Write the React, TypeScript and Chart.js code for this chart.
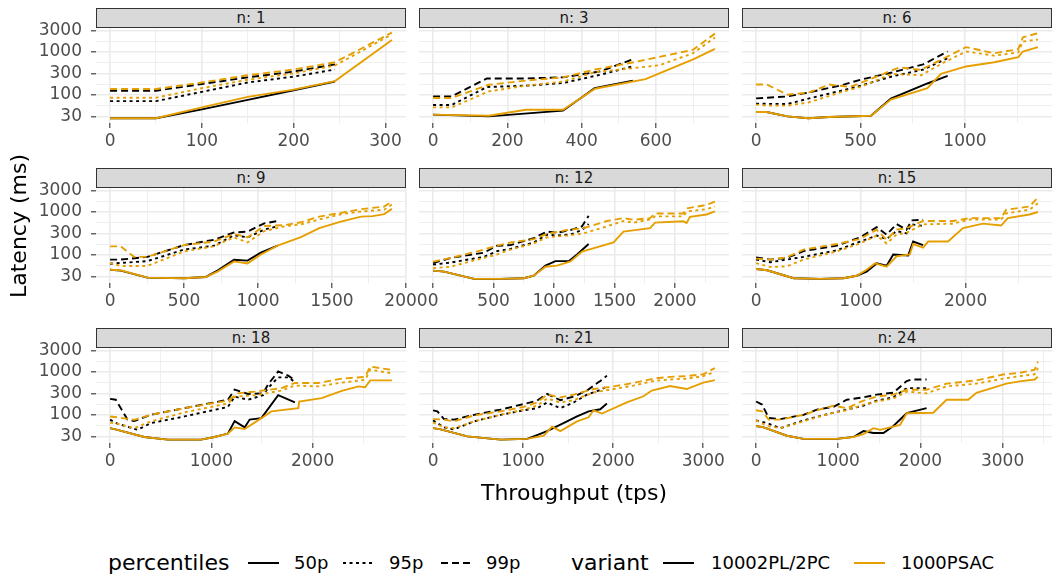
import React, { useEffect, useRef } from "react";
import { Chart, registerables } from "chart.js";
Chart.register(...registerables);

type P = [number, number][];

// ---------- data: [throughput (tps), latency (ms)] ----------
// n: 1
const n1_b50: P = [[0,28],[50,28],[100,45],[150,75],[200,125],[245,200]];
const n1_b95: P = [[0,70],[50,70],[100,115],[150,190],[200,260],[245,380]];
const n1_b99: P = [[0,122],[50,122],[100,175],[150,250],[200,340],[245,500]];
const n1_o50: P = [[0,28],[50,28],[100,50],[150,88],[200,130],[245,205],[307,1850]];
const n1_o95: P = [[0,84],[50,84],[100,140],[150,220],[200,310],[245,470],[307,2500]];
const n1_o99: P = [[0,134],[50,134],[100,190],[150,280],[200,380],[245,560],[307,2750]];
// n: 3
const n3_b50: P = [[0,34],[150,31],[350,42],[435,140],[538,210]];
const n3_b95: P = [[0,57],[50,57],[145,149],[250,160],[350,184],[450,287],[538,450]];
const n3_b99: P = [[0,90],[50,90],[145,236],[250,236],[350,250],[450,343],[538,660]];
const n3_o50: P = [[0,34],[150,32],[250,44],[350,44],[436,136],[572,228],[702,660],[759,1150]];
const n3_o95: P = [[0,50],[50,50],[150,118],[250,160],[350,200],[436,330],[540,410],[610,480],[700,910],[759,2100]];
const n3_o99: P = [[0,83],[50,83],[150,168],[250,210],[350,250],[436,380],[540,560],[700,1090],[759,2600]];
// n: 6
const n6_b50: P = [[0,39],[50,39],[150,31],[250,28],[350,30],[550,32],[645,80],[820,180],[917,272]];
const n6_b95: P = [[0,61],[150,60],[250,80],[400,120],[500,160],[650,262],[800,380],[917,700]];
const n6_b99: P = [[0,81],[150,90],[250,111],[400,160],[500,220],[650,325],[800,500],[917,1000]];
const n6_o50: P = [[0,39],[50,39],[150,31],[250,28],[350,30],[550,32],[645,76],[820,141],[885,300],[1005,448],[1140,560],[1255,736],[1277,1000],[1349,1256]];
const n6_o95: P = [[0,58],[50,55],[150,55],[250,65],[400,110],[500,150],[650,300],[790,280],[900,560],[1005,1000],[1140,800],[1255,950],[1277,1700],[1349,1900]];
const n6_o99: P = [[0,171],[50,171],[150,99],[250,110],[350,170],[450,150],[550,230],[685,424],[790,375],[1005,1260],[1140,910],[1255,1130],[1277,2140],[1349,2650]];
// n: 9
const n9_b50: P = [[0,44],[72,42],[252,29],[500,28],[647,30],[726,42],[838,75],[929,72],[1019,110],[1132,160]];
const n9_b95: P = [[0,61],[252,70],[500,130],[703,160],[838,280],[929,250],[1042,380],[1132,450]];
const n9_b99: P = [[0,76],[72,76],[252,88],[500,165],[703,220],[838,325],[929,340],[1042,530],[1132,600]];
const n9_o50: P = [[0,44],[72,43],[252,29],[500,28],[647,30],[726,40],[838,69],[929,62],[1019,100],[1132,160],[1290,253],[1414,410],[1560,580],[1696,760],[1775,780],[1853,870],[1905,1150]];
const n9_o95: P = [[0,63],[72,54],[252,54],[500,118],[703,155],[838,250],[929,190],[1042,350],[1177,450],[1290,500],[1414,650],[1560,860],[1696,1000],[1853,1100],[1905,1450]];
const n9_o99: P = [[0,154],[72,154],[162,88],[252,88],[500,165],[703,200],[838,300],[929,250],[1042,460],[1177,480],[1290,560],[1414,760],[1560,930],[1696,1130],[1853,1300],[1905,1700]];
// n: 12
const n12_b50: P = [[0,42],[91,40],[338,27],[558,27],[750,28],[832,32],[929,55],[1011,70],[1121,70],[1190,100],[1286,175]];
const n12_b95: P = [[0,58],[146,65],[420,88],[530,120],[640,135],[832,190],[942,290],[1025,275],[1135,290],[1231,370],[1286,510]];
const n12_b99: P = [[0,63],[146,83],[420,110],[530,160],[640,165],[832,240],[942,340],[1025,320],[1135,370],[1231,450],[1286,790]];
const n12_o50: P = [[0,42],[91,40],[338,27],[558,27],[750,28],[832,32],[929,52],[1025,55],[1135,69],[1231,116],[1492,190],[1574,340],[1794,410],[1835,550],[2069,590],[2096,540],[2124,750],[2261,850],[2330,1000]];
const n12_o95: P = [[0,48],[146,52],[365,76],[530,100],[640,130],[832,180],[942,250],[1107,275],[1245,310],[1437,450],[1574,600],[1657,550],[1794,650],[1835,770],[2069,770],[2096,1000],[2261,1130],[2330,1300]];
const n12_o99: P = [[0,68],[146,83],[365,118],[530,160],[640,190],[832,227],[942,300],[1107,370],[1245,410],[1437,600],[1574,700],[1657,640],[1794,700],[1835,900],[2069,900],[2096,1180],[2261,1420],[2330,1700]];
// n: 15
const n15_b50: P = [[0,46],[105,43],[358,28],[612,27],[834,28],[960,32],[1055,40],[1151,62],[1246,55],[1309,100],[1452,95],[1499,200],[1594,165]];
const n15_b95: P = [[0,76],[136,66],[453,88],[770,125],[992,200],[1151,275],[1246,230],[1341,350],[1436,310],[1483,500],[1594,460]];
const n15_b99: P = [[0,85],[136,76],[295,83],[453,120],[770,160],[992,250],[1151,430],[1246,290],[1341,510],[1436,375],[1483,620],[1594,640]];
const n15_o50: P = [[0,46],[105,43],[358,28],[612,27],[834,28],[960,32],[1055,44],[1135,62],[1246,52],[1341,90],[1467,100],[1499,175],[1594,145],[1642,200],[1832,200],[1975,410],[2165,520],[2339,470],[2403,700],[2609,850],[2690,970]];
const n15_o95: P = [[0,63],[136,51],[295,53],[453,76],[770,118],[992,180],[1151,275],[1246,180],[1341,290],[1436,320],[1594,500],[1880,520],[2038,650],[2339,650],[2387,900],[2609,1100],[2690,1550]];
const n15_o99: P = [[0,80],[136,76],[295,86],[453,130],[770,175],[992,230],[1151,375],[1246,220],[1341,380],[1436,410],[1594,600],[1880,600],[2038,700],[2339,700],[2387,1100],[2609,1300],[2690,2100]];
// n: 18
const n18_b50: P = [[0,48],[73,44],[337,30],[569,26],[899,26],[1031,30],[1164,36],[1230,70],[1329,50],[1378,76],[1494,82],[1660,280],[1825,190]];
const n18_b95: P = [[0,76],[73,61],[271,44],[403,63],[734,90],[1164,150],[1230,260],[1362,220],[1511,280],[1560,410],[1660,730],[1759,730],[1825,570]];
const n18_b99: P = [[0,230],[56,220],[172,76],[238,70],[403,98],[734,140],[1164,220],[1230,380],[1362,300],[1511,310],[1560,500],[1660,1000],[1759,800],[1825,620]];
const n18_o50: P = [[0,48],[73,44],[337,30],[569,26],[899,26],[1031,30],[1164,36],[1230,50],[1329,46],[1494,82],[1593,118],[1858,140],[1868,200],[2089,240],[2288,355],[2453,450],[2519,430],[2569,620],[2783,620]];
const n18_o95: P = [[0,65],[73,61],[238,48],[403,69],[734,112],[1164,180],[1230,260],[1428,280],[1693,360],[1825,470],[2056,450],[2288,550],[2519,640],[2569,1100],[2767,920]];
const n18_o99: P = [[0,90],[73,86],[238,75],[403,98],[734,140],[1164,210],[1263,310],[1428,340],[1693,410],[1825,540],[2056,540],[2288,680],[2519,750],[2569,1300],[2767,1100]];
// n: 21
const n21_b50: P = [[0,48],[85,45],[380,31],[749,26],[1044,27],[1118,31],[1266,41],[1487,69],[1598,90],[1727,118],[1856,132],[1930,180]];
const n21_b95: P = [[0,73],[122,50],[232,45],[454,69],[749,98],[1007,125],[1155,140],[1266,190],[1413,140],[1561,190],[1708,290],[1856,370],[1930,450]];
const n21_b99: P = [[0,125],[48,118],[122,78],[232,76],[454,98],[749,130],[1007,175],[1155,210],[1266,300],[1413,215],[1561,260],[1708,360],[1819,530],[1856,600],[1930,800]];
const n21_o50: P = [[0,48],[85,45],[380,31],[749,26],[1044,27],[1229,32],[1321,52],[1413,41],[1598,69],[1727,86],[1782,125],[1875,105],[2151,190],[2336,265],[2428,360],[2631,460],[2815,390],[3000,550],[3129,630]];
const n21_o95: P = [[0,65],[122,50],[232,48],[454,69],[749,98],[1007,130],[1155,160],[1266,235],[1413,190],[1561,215],[1782,325],[2004,390],[2225,470],[2446,600],[2631,650],[2815,680],[3000,780],[3129,970]];
const n21_o99: P = [[0,78],[122,76],[232,69],[454,95],[749,118],[1007,150],[1155,190],[1266,290],[1413,250],[1561,290],[1782,390],[2004,450],[2225,540],[2446,680],[2631,750],[2815,780],[3000,860],[3129,1200]];
// n: 24
const n24_b50: P = [[0,54],[93,50],[376,32],[578,27],[983,27],[1185,30],[1307,41],[1428,37],[1550,37],[1671,54],[1833,107],[2075,140]];
const n24_b95: P = [[0,73],[134,63],[295,48],[578,73],[740,88],[943,110],[1104,130],[1307,160],[1468,210],[1671,250],[1833,410],[2075,410]];
const n24_b99: P = [[0,200],[73,170],[154,83],[295,78],[578,98],[740,130],[943,150],[1104,220],[1307,250],[1468,290],[1671,320],[1833,600],[1893,650],[2075,650]];
const n24_o50: P = [[0,54],[93,50],[376,32],[578,27],[983,27],[1185,30],[1307,35],[1428,48],[1509,44],[1752,57],[1833,107],[2156,110],[2318,220],[2581,220],[2682,320],[3046,520],[3208,590],[3390,650],[3430,750]];
const n24_o95: P = [[0,73],[134,54],[295,48],[578,69],[740,86],[943,110],[1104,125],[1307,170],[1468,200],[1671,235],[1833,340],[2075,310],[2318,450],[2682,520],[3006,680],[3208,780],[3390,860],[3430,1200]];
const n24_o99: P = [[0,125],[73,118],[154,76],[295,76],[578,98],[740,125],[943,160],[1104,140],[1307,210],[1468,260],[1671,290],[1833,375],[2075,375],[2318,520],[2682,620],[3006,850],[3208,930],[3390,1100],[3430,1700]];

// ---------- facets, ticks, legend ----------
const panelLabels = ["n: 1","n: 3","n: 6","n: 9","n: 12","n: 15","n: 18","n: 21","n: 24"];
const panelXMajor = [
  [0,100,200,300],[0,200,400,600],[0,500,1000],
  [0,500,1000,1500,2000],[0,500,1000,1500,2000],[0,1000,2000],
  [0,1000,2000],[0,1000,2000,3000],[0,1000,2000,3000],
];
const panelXMinor = [
  [50,150,250],[100,300,500,700],[250,750,1250],
  [250,750,1250,1750],[250,750,1250,1750,2250],[500,1500,2500],
  [500,1500,2500],[500,1500,2500],[500,1500,2500,3500],
];
const panelSeries = [
  [n1_o50,n1_o95,n1_o99,n1_b50,n1_b95,n1_b99],
  [n3_o50,n3_o95,n3_o99,n3_b50,n3_b95,n3_b99],
  [n6_o50,n6_o95,n6_o99,n6_b50,n6_b95,n6_b99],
  [n9_o50,n9_o95,n9_o99,n9_b50,n9_b95,n9_b99],
  [n12_o50,n12_o95,n12_o99,n12_b50,n12_b95,n12_b99],
  [n15_o50,n15_o95,n15_o99,n15_b50,n15_b95,n15_b99],
  [n18_o50,n18_o95,n18_o99,n18_b50,n18_b95,n18_b99],
  [n21_o50,n21_o95,n21_o99,n21_b50,n21_b95,n21_b99],
  [n24_o50,n24_o95,n24_o99,n24_b50,n24_b95,n24_b99],
];
const seriesVariant = ["1000PSAC","1000PSAC","1000PSAC","10002PL/2PC","10002PL/2PC","10002PL/2PC"];
const seriesPercentile = ["50p","95p","99p","50p","95p","99p"];

const yMajor = [30, 100, 300, 1000, 3000];
const yMinor = [54.77, 173.2, 547.7, 1732];
const Y_MIN = 21.7;
const Y_MAX = 3513;

const percentileLabels = ["50p", "95p", "99p"];
const variantLabels = ["10002PL/2PC", "1000PSAC"];

// ---------- styles ----------
const FONT = '"DejaVu Sans", sans-serif';
const ORANGE = "#E69F00";
const BLACK = "#000000";
const variantColor: Record<string, string> = { "10002PL/2PC": BLACK, "1000PSAC": ORANGE };
const dashFor: Record<string, number[]> = { "50p": [], "95p": [3, 3.5], "99p": [7, 4] };

const PLOT_LEFT = [96, 419, 742];
const PLOT_TOP = [28, 188, 348];
const PLOT_W = 310;
const PLOT_H = 95;
const M_LEFT = 90, M_TOP = 12, M_RIGHT = 30, M_BOTTOM = 36;

function Panel({ idx }: { idx: number }) {
  const ref = useRef<HTMLCanvasElement | null>(null);
  const row = Math.floor(idx / 3);
  const col = idx % 3;
  useEffect(() => {
    if (!ref.current) return;
    const series = panelSeries[idx];
    const xMaxData = Math.max(...series.flat().map((p) => p[0]));
    const xMin = -0.05 * xMaxData;
    const xMax = 1.05 * xMaxData;
    const majX = new Set(panelXMajor[idx]);
    const xTicks = [...panelXMajor[idx], ...panelXMinor[idx]]
      .filter((v) => v >= xMin && v <= xMax)
      .sort((a, b) => a - b);
    const majY = new Set(yMajor);
    const yTicks = [...yMajor, ...yMinor].sort((a, b) => a - b);

    const chart = new Chart(ref.current, {
      type: "line",
      data: {
        datasets: series.map((pts, i) => ({
          label: seriesVariant[i] + " " + seriesPercentile[i],
          data: pts.map(([x, y]) => ({ x, y })),
          borderColor: variantColor[seriesVariant[i]],
          borderWidth: 1.9,
          borderDash: dashFor[seriesPercentile[i]],
          pointRadius: 0,
          tension: 0,
          fill: false,
        })),
      },
      options: {
        responsive: false,
        animation: false,
        devicePixelRatio: 1,
        events: [],
        layout: { padding: { left: 0, top: M_TOP, right: M_RIGHT, bottom: 0 } },
        plugins: { legend: { display: false }, tooltip: { enabled: false } },
        scales: {
          x: {
            type: "linear",
            min: xMin,
            max: xMax,
            afterBuildTicks: (s: any) => {
              s.ticks = xTicks.map((v) => ({ value: v }));
            },
            afterFit: (s: any) => {
              s.height = M_BOTTOM;
              s.paddingLeft = 0;
              s.paddingRight = 0;
            },
            ticks: {
              autoSkip: false,
              maxRotation: 0,
              minRotation: 0,
              padding: 3,
              color: "#4D4D4D",
              font: { family: FONT, size: 17 },
              callback: (v: any) => (majX.has(Number(v)) ? String(v) : ""),
            },
            grid: {
              color: "#EBEBEB",
              lineWidth: (ctx: any) => (majX.has(ctx.tick?.value) ? 1.6 : 0.8),
              tickColor: (ctx: any) => (majX.has(ctx.tick?.value) ? "#333333" : "rgba(0,0,0,0)"),
              tickLength: 5,
              tickWidth: 1.1,
            },
            border: { display: false },
          },
          y: {
            type: "logarithmic",
            min: Y_MIN,
            max: Y_MAX,
            afterBuildTicks: (s: any) => {
              s.ticks = yTicks.map((v) => ({ value: v }));
            },
            afterFit: (s: any) => {
              s.width = M_LEFT;
              s.paddingTop = 0;
              s.paddingBottom = 0;
            },
            ticks: {
              display: col === 0,
              autoSkip: false,
              padding: 9,
              color: "#4D4D4D",
              font: { family: FONT, size: 17 },
              callback: (v: any) => (majY.has(Number(v)) ? String(v) : ""),
            },
            grid: {
              color: "#EBEBEB",
              drawTicks: col === 0,
              lineWidth: (ctx: any) => (majY.has(ctx.tick?.value) ? 1.6 : 0.8),
              tickColor: (ctx: any) => (majY.has(ctx.tick?.value) ? "#333333" : "rgba(0,0,0,0)"),
              tickLength: 5,
              tickWidth: 1.1,
            },
            border: { display: false },
          },
        },
      } as any,
    });
    return () => chart.destroy();
  }, [idx, col]);

  const w = M_LEFT + PLOT_W + M_RIGHT;
  const h = M_TOP + PLOT_H + M_BOTTOM;
  return (
    <>
      <canvas
        ref={ref}
        width={w}
        height={h}
        style={{
          position: "absolute",
          left: PLOT_LEFT[col] - M_LEFT,
          top: PLOT_TOP[row] - M_TOP,
          width: w,
          height: h,
        }}
      />
      <div
        style={{
          position: "absolute",
          left: PLOT_LEFT[col],
          top: PLOT_TOP[row] - 20,
          width: PLOT_W,
          height: 20,
          boxSizing: "border-box",
          background: "#D9D9D9",
          border: "1px solid #333333",
          fontFamily: FONT,
          fontSize: 15,
          color: "#1A1A1A",
          lineHeight: "18px",
          textAlign: "center",
        }}
      >
        {panelLabels[idx]}
      </div>
    </>
  );
}

function KeyLine({ left, color, dash }: { left: number; color: string; dash: number[] }) {
  return (
    <svg
      width={31}
      height={10}
      style={{ position: "absolute", left, top: 558 }}
    >
      <line
        x1={0}
        y1={5}
        x2={31}
        y2={5}
        stroke={color}
        strokeWidth={2}
        strokeDasharray={dash.length ? dash.join(" ") : undefined}
      />
    </svg>
  );
}

const textStyle = (left: number, size: number): React.CSSProperties => ({
  position: "absolute",
  left,
  top: 563 - size * 0.6,
  fontFamily: FONT,
  fontSize: size,
  lineHeight: `${size * 1.2}px`,
  color: "#000000",
  whiteSpace: "nowrap",
});

export default function App() {
  const keyLefts = [248, 343, 441];
  const labLefts = [294, 389, 486];
  return (
    <div
      style={{
        position: "absolute",
        left: 0,
        top: 0,
        width: 1063,
        height: 578,
        overflow: "hidden",
        background: "#FFFFFF",
      }}
    >
      {panelLabels.map((_, i) => (
        <Panel key={i} idx={i} />
      ))}
      <div
        style={{
          position: "absolute",
          left: 19 - 100,
          top: 226 - 14,
          width: 200,
          height: 28,
          lineHeight: "28px",
          textAlign: "center",
          transform: "rotate(-90deg)",
          fontFamily: FONT,
          fontSize: 22,
          color: "#000000",
        }}
      >
        Latency (ms)
      </div>
      <div
        style={{
          position: "absolute",
          left: 574 - 150,
          top: 493 - 14,
          width: 300,
          height: 28,
          lineHeight: "28px",
          textAlign: "center",
          fontFamily: FONT,
          fontSize: 22,
          color: "#000000",
        }}
      >
        Throughput (tps)
      </div>
      <div style={textStyle(108, 22)}>percentiles</div>
      {percentileLabels.map((p, i) => (
        <React.Fragment key={p}>
          <KeyLine left={keyLefts[i]} color={BLACK} dash={dashFor[p]} />
          <div style={textStyle(labLefts[i], 18)}>{p}</div>
        </React.Fragment>
      ))}
      <div style={textStyle(571, 22)}>variant</div>
      {variantLabels.map((v, i) => (
        <React.Fragment key={v}>
          <KeyLine left={[663, 854][i]} color={variantColor[v]} dash={[]} />
          <div style={textStyle([711, 901][i], 18)}>{v}</div>
        </React.Fragment>
      ))}
    </div>
  );
}
